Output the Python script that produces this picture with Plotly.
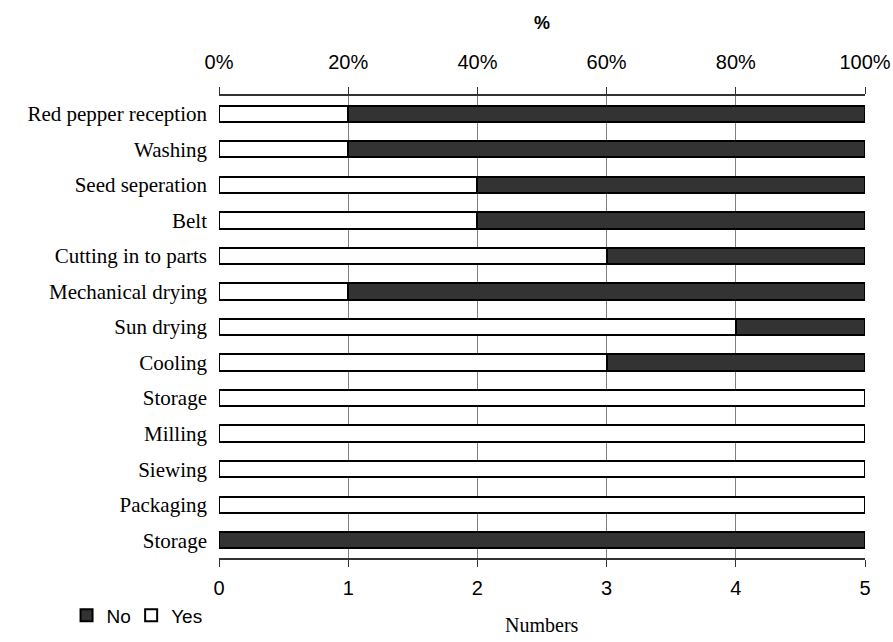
import plotly.graph_objects as go

# Processing steps (top to bottom) and counts of Yes / No answers out of 5
steps = ["Red pepper reception", "Washing", "Seed seperation", "Belt",
         "Cutting in to parts", "Mechanical drying", "Sun drying", "Cooling",
         "Storage", "Milling", "Siewing", "Packaging", "Storage"]
yes_counts = [1, 1, 2, 2, 3, 1, 4, 3, 5, 5, 5, 5, 0]
no_counts = [4, 4, 3, 3, 2, 4, 1, 2, 0, 0, 0, 0, 5]
count_ticks = [0, 1, 2, 3, 4, 5]
pct_ticks = [0, 20, 40, 60, 80, 100]
pct_labels = ["0%", "20%", "40%", "60%", "80%", "100%"]

positions = list(range(len(steps)))

fig = go.Figure()
fig.add_trace(go.Bar(
    name="Yes", y=positions, x=yes_counts, orientation="h",
    marker=dict(color="white", line=dict(color="black", width=2)),
    width=0.46, legend="legend2",
))
fig.add_trace(go.Bar(
    name="No", y=positions, x=no_counts, orientation="h",
    marker=dict(color="#333333", line=dict(color="black", width=2)),
    width=0.46, legend="legend",
))
# invisible trace to carry the percentage axis on top
fig.add_trace(go.Scatter(x=[0, 100], y=[0, 0], xaxis="x2", mode="markers",
                         marker=dict(opacity=0), showlegend=False, hoverinfo="skip"))

legend_style = dict(
    orientation="h", y=-0.083, xanchor="left", yanchor="top",
    font=dict(size=19), itemwidth=30, bgcolor="rgba(0,0,0,0)",
)

fig.update_layout(
    width=893, height=642,
    margin=dict(l=219, r=28, t=96, b=84, autoexpand=False),
    barmode="stack",
    plot_bgcolor="white", paper_bgcolor="white",
    font=dict(family="Liberation Sans, Arial, sans-serif", size=20, color="black"),
    xaxis=dict(
        range=[0, 5], tickvals=count_ticks, side="bottom", automargin=False,
        showgrid=True, gridcolor="#808080", gridwidth=1,
        showline=True, linecolor="#333333", linewidth=2,
        ticks="outside", ticklen=7, tickcolor="#333333", tickwidth=1,
        ticklabelstandoff=4,
        zeroline=False, tickfont=dict(size=20),
    ),
    xaxis2=dict(
        range=[0, 100], tickvals=pct_ticks, ticktext=pct_labels, automargin=False,
        overlaying="x", side="top", showgrid=False,
        showline=True, linecolor="#333333", linewidth=2,
        ticks="outside", ticklen=7, tickcolor="#333333", tickwidth=1,
        ticklabelstandoff=10,
        zeroline=False, tickfont=dict(size=20),
    ),
    yaxis=dict(
        range=[12.5, -0.5], tickvals=positions, ticktext=steps, automargin=False,
        showgrid=False, zeroline=False, showline=False,
        ticks="", ticklabelstandoff=11,
        tickfont=dict(family="Liberation Serif, Times New Roman, serif", size=21),
    ),
    legend=dict(x=-0.236, **legend_style),
    legend2=dict(x=-0.136, **legend_style),
    annotations=[
        dict(text="<b>%</b>", x=0.5, y=1.158, xref="paper", yref="paper",
             showarrow=False, xanchor="center", yanchor="middle",
             font=dict(size=18)),
        dict(text="Numbers", x=0.5, y=-0.145, xref="paper", yref="paper",
             showarrow=False, xanchor="center", yanchor="middle",
             font=dict(family="Liberation Serif, Times New Roman, serif", size=20)),
    ],
)

fig.write_html("out.html")
